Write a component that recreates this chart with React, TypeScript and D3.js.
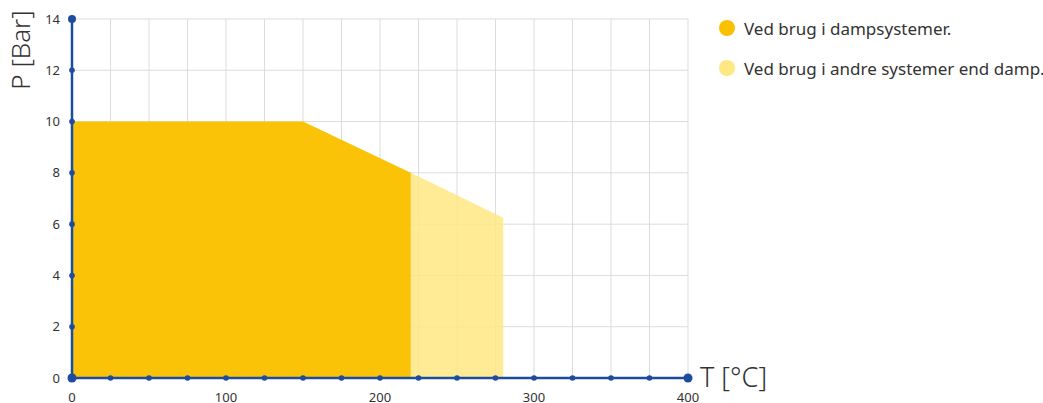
import React, { useEffect, useRef } from 'react';
import * as d3 from 'd3';

// data
const steamPoints: [number, number][] = [[0, 10], [150, 10], [220, 8]];
const otherPoints: [number, number][] = [[220, 8], [280, 6.25]];
const xTicks = [0, 100, 200, 300, 400];
const yTicks = [0, 2, 4, 6, 8, 10, 12, 14];
const xGrid = d3.range(0, 401, 25);
const legendLabels = ['Ved brug i dampsystemer.', 'Ved brug i andre systemer end damp.'];
const legendColors = ['#FBC100', '#FFE783'];

function App() {
    const ref = useRef<SVGSVGElement>(null);

    useEffect(() => {
        const svg = d3.select(ref.current);
        svg.selectAll('*').remove();

        const font = '"Noto Sans", "Open Sans", sans-serif';
        const x = d3.scaleLinear().domain([0, 400]).range([72, 688]);
        const y = d3.scaleLinear().domain([0, 14]).range([378, 19]);

        // grid
        const grid = svg.append('g');
        grid.selectAll('line.v').data(xGrid).join('line')
            .attr('x1', d => x(d)).attr('x2', d => x(d))
            .attr('y1', y(14)).attr('y2', y(0))
            .attr('stroke', '#dcdcdc').attr('stroke-width', 1);
        grid.selectAll('line.h').data(yTicks).join('line')
            .attr('x1', x(0)).attr('x2', x(400))
            .attr('y1', d => y(d)).attr('y2', d => y(d))
            .attr('stroke', '#dcdcdc').attr('stroke-width', 1);

        // areas
        const area = d3.area<[number, number]>()
            .x(d => x(d[0]))
            .y0(y(0))
            .y1(d => y(d[1]));
        svg.append('path').datum(otherPoints).attr('d', area)
            .attr('fill', legendColors[1]).attr('fill-opacity', 0.85);
        svg.append('path').datum(steamPoints).attr('d', area)
            .attr('fill', legendColors[0]).attr('fill-opacity', 0.97);

        // axes
        const blue = '#1E4C9C';
        svg.append('line').attr('x1', x(0)).attr('x2', x(0)).attr('y1', y(0)).attr('y2', y(14))
            .attr('stroke', blue).attr('stroke-width', 2.5);
        svg.append('line').attr('x1', x(0)).attr('x2', x(400)).attr('y1', y(0)).attr('y2', y(0))
            .attr('stroke', blue).attr('stroke-width', 2.5);

        svg.selectAll('circle.yd').data(yTicks).join('circle')
            .attr('cx', x(0)).attr('cy', d => y(d))
            .attr('r', d => (d === 0 || d === 14) ? 4 : 2.8).attr('fill', blue);
        svg.selectAll('circle.xd').data(xGrid).join('circle')
            .attr('cx', d => x(d)).attr('cy', y(0))
            .attr('r', d => (d === 0 || d === 400) ? 4.5 : 2.8).attr('fill', blue);

        // tick labels
        svg.selectAll('text.yt').data(yTicks).join('text')
            .attr('x', 60).attr('y', d => y(d)).attr('dy', '0.35em')
            .attr('text-anchor', 'end')
            .attr('font-family', font).attr('font-size', 13).attr('fill', '#333')
            .text(d => d);
        svg.selectAll('text.xt').data(xTicks).join('text')
            .attr('x', d => x(d)).attr('y', 402)
            .attr('text-anchor', 'middle')
            .attr('font-family', font).attr('font-size', 13).attr('fill', '#333')
            .text(d => d);

        // axis titles
        svg.append('text')
            .attr('transform', 'translate(30,50) rotate(-90)')
            .attr('text-anchor', 'middle')
            .attr('font-family', font).attr('font-size', 26).attr('font-weight', 300).attr('fill', '#333')
            .text('P [Bar]');
        svg.append('text')
            .attr('x', 700).attr('y', 387)
            .attr('font-family', font).attr('font-size', 27).attr('font-weight', 300).attr('fill', '#333')
            .text('T [°C]');

        // legend
        const legend = svg.append('g');
        legendLabels.forEach((label, i) => {
            legend.append('circle').attr('cx', 727).attr('cy', 28 + i * 40).attr('r', 8)
                .attr('fill', legendColors[i]);
            legend.append('text').attr('x', 744).attr('y', 29 + i * 40).attr('dy', '0.35em')
                .attr('font-family', font).attr('font-size', 17).attr('fill', '#333')
                .text(label);
        });
    }, []);

    return (
        <svg ref={ref} width={1043} height={403}
            style={{ position: 'absolute', left: 0, top: 0, background: 'white' }} />
    );
}

export default App;
